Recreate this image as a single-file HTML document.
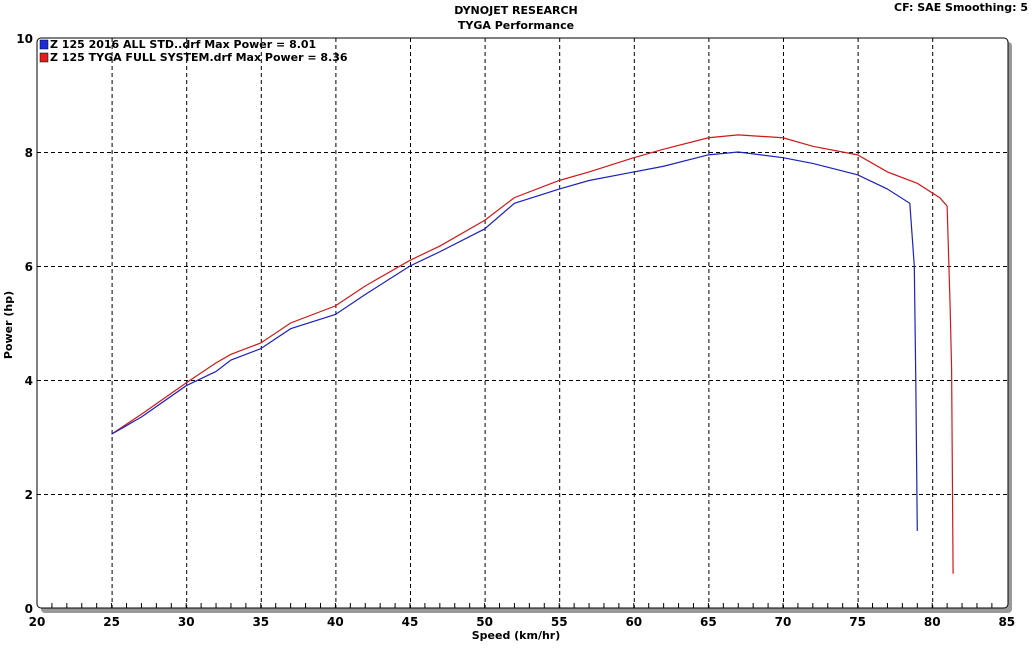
<!DOCTYPE html>
<html><head><meta charset="utf-8"><style>
body{margin:0;background:#fff;width:1033px;height:643px;overflow:hidden}
svg text{font-family:"DejaVu Sans","Liberation Sans",sans-serif;font-weight:bold}
</style></head><body>
<svg id="c" width="1033" height="643" xmlns="http://www.w3.org/2000/svg">
<text x="516" y="14" text-anchor="middle" font-size="11">DYNOJET RESEARCH</text>
<text x="516" y="29" text-anchor="middle" font-size="11">TYGA Performance</text>
<text x="1028" y="11" text-anchor="end" font-size="11">CF: SAE  Smoothing: 5</text>
<rect x="41" y="42" width="971" height="571" rx="4" fill="#999"/>
<rect x="37" y="38" width="971" height="570" rx="4" fill="#fff" stroke="#000" stroke-width="1"/>
<g id="grid"></g><g id="ticks"></g><g id="series"></g>
<rect x="40" y="40" width="8" height="9" fill="#1c2bd8" stroke="#000" stroke-width="0.5"/>
<text x="50" y="48" font-size="11">Z 125 2016 ALL STD..drf Max Power = 8.01</text>
<rect x="40" y="53" width="8" height="9" fill="#e02020" stroke="#000" stroke-width="0.5"/>
<text x="50" y="61" font-size="11">Z 125 TYGA FULL SYSTEM.drf Max Power = 8.36</text>
<text x="516" y="639" text-anchor="middle" font-size="11">Speed (km/hr)</text>
<text transform="translate(12,325) rotate(-90)" text-anchor="middle" font-size="11">Power (hp)</text>
</svg>
<script>
const xTicks=[20,25,30,35,40,45,50,55,60,65,70,75,80,85];
const yTicks=[0,2,4,6,8,10];
const stdSpeed=[25,27,30,32,33,35,37,40,42,45,47,50,52,55,57,60,62,65,67,70,72,75,77,78.5,78.8,78.9,79.0];
const stdPower=[3.05,3.35,3.9,4.15,4.35,4.55,4.9,5.15,5.5,6.0,6.25,6.65,7.1,7.35,7.5,7.65,7.75,7.95,8.0,7.9,7.8,7.6,7.35,7.1,6.0,4.0,1.35];
const tygaSpeed=[25,27,30,32,33,35,37,40,42,45,47,50,52,55,57,60,62,65,67,70,72,75,77,79,80.5,81.0,81.2,81.3,81.4];
const tygaPower=[3.05,3.4,3.95,4.3,4.45,4.65,5.0,5.3,5.65,6.1,6.35,6.8,7.2,7.5,7.65,7.9,8.05,8.25,8.3,8.25,8.1,7.95,7.65,7.45,7.2,7.05,5.3,4.2,0.6];
const X=v=>37+(v-20)*14.92, Y=v=>608-v*57;
const NS="http://www.w3.org/2000/svg";
function mk(t,a,p){const e=document.createElementNS(NS,t);for(const k in a)e.setAttribute(k,a[k]);p.appendChild(e);return e;}
const g=document.getElementById('grid'),tk=document.getElementById('ticks'),s=document.getElementById('series');
xTicks.forEach(v=>{
  if(v>20&&v<85){const l=mk('line',{x1:X(v)+0.5,x2:X(v)+0.5,y1:38,y2:608,stroke:'#000','stroke-dasharray':'4,3','stroke-width':1},g);
  
  }
  const t=mk('text',{x:X(v),y:626,'text-anchor':'middle','font-size':'12'},tk);t.textContent=v;
  
  
});
for(let v=21;v<85;v++){const l=mk('line',{x1:X(v),x2:X(v),y1:603,y2:608,stroke:'#000'},tk);
  
  }
yTicks.forEach(v=>{
  if(v>0&&v<10){const l=mk('line',{x1:37,x2:1008,y1:Y(v)+0.5,y2:Y(v)+0.5,stroke:'#000','stroke-dasharray':'4,3'},g);
  
  }
  const t=mk('text',{x:33,y:Y(v)+5,'text-anchor':'end','font-size':'12'},tk);t.textContent=v;
  
  
});
function line(xs,ys,c,n){const p=mk('polyline',{points:xs.map((x,i)=>X(x)+','+Y(ys[i])).join(' '),fill:'none',stroke:c,'stroke-width':1.2},s);
  
  }
line(tygaSpeed,tygaPower,'#d01818','tyga-power-line');
line(stdSpeed,stdPower,'#1c22b8','std-power-line');
</script>
</body></html>
